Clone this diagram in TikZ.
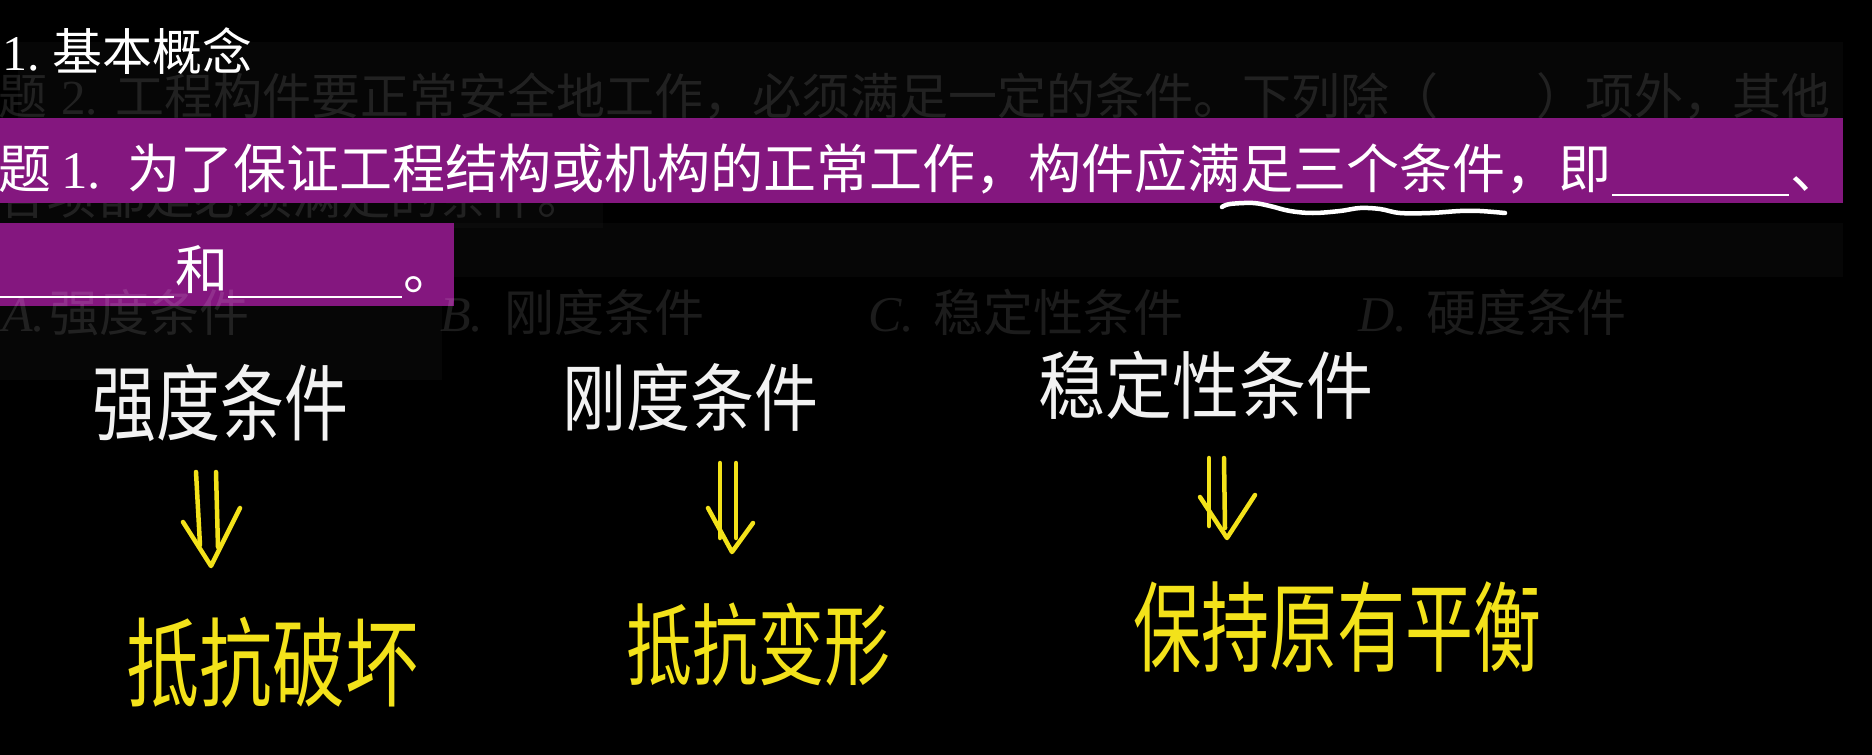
\documentclass[tikz,border=0pt]{standalone}
\usepackage{fontspec}
\setmainfont{Liberation Serif}
\newfontfamily\cjk{Noto Sans CJK SC}
\usetikzlibrary{calc}
\definecolor{bandpurple}{HTML}{84177F}
\definecolor{hwyellow}{HTML}{F3E21A}
\definecolor{hwwhite}{HTML}{F2F2F2}
\newcommand\fsz[1]{\fontsize{#1}{#1}\selectfont}
\tikzset{
  txt/.style={inner sep=0pt, anchor=base west, text=white},
  ghost/.style={inner sep=0pt, anchor=base west, text=white, text opacity=0.11},
  band/.style={fill=bandpurple, draw=none},
  ghostbox/.style={fill=white, fill opacity=0.025, draw=none},
  hw/.style={inner sep=0pt, anchor=base, text=hwwhite},
  hwy/.style={inner sep=0pt, anchor=base, text=hwyellow},
  ya/.style={draw=hwyellow, line width=4.5pt, line cap=round, line join=round},
  blank/.style={draw=white, line width=1.6pt},
  wave/.style={draw=white, line width=4.5pt, line cap=round, line join=round},
}
\begin{document}
\begin{tikzpicture}[x=1pt,y=-1pt]
\fill[black] (0,0) rectangle (1872,755);
\useasboundingbox (0,0) rectangle (1872,755);

% faint ghost boxes
\fill[ghostbox] (18,42) rectangle (1843,118);
\fill[ghostbox] (0,203) rectangle (603,228);
\fill[ghostbox] (454,223) rectangle (1843,277);
\fill[ghostbox] (0,306) rectangle (442,380);

% ghost line lying partly behind the first band
\node[ghost, font=\cjk\fsz{49}] (g2) at (-2,214) {各项都是必须满足的条件。};

% purple highlight bands
\fill[band] (0,118) rectangle (1843,203);
\fill[band] (0,223) rectangle (454,306);

% title
\node[txt, font=\fsz{50}] (t1) at (2,70) {1.};
\node[txt, font=\cjk\fsz{50}] (t2) at (52,70) {基本概念};

% ghost texts
\node[ghost, font=\cjk\fsz{49}] (g1a) at (-2,114) {题};
\node[ghost, font=\fsz{49}] (g1b) at (61,114) {2.};
\node[ghost, font=\cjk\fsz{49}] (g1c) at (115,114) {工程构件要正常安全地工作，必须满足一定的条件。下列除（　　）项外，其他};
\node[ghost, font=\itshape\fsz{50}] (oa) at (2,331) {A.};
\node[ghost, font=\cjk\fsz{50}] (oa2) at (49,331) {强度条件};
\node[ghost, font=\itshape\fsz{50}] (ob) at (440,331) {B.};
\node[ghost, font=\cjk\fsz{50}] (ob2) at (504,331) {刚度条件};
\node[ghost, font=\itshape\fsz{50}] (oc) at (868,331) {C.};
\node[ghost, font=\cjk\fsz{50}] (oc2) at (933,331) {稳定性条件};
\node[ghost, font=\itshape\fsz{50}] (od) at (1358,331) {D.};
\node[ghost, font=\cjk\fsz{50}] (od2) at (1426,331) {硬度条件};

% question 1
\node[txt, font=\cjk\fsz{53}] (q1a) at (-2,188) {题};
\node[txt, font=\fsz{53}] (q1b) at (61,188) {1.};
\node[txt, font=\cjk\fsz{53}] (q1c) at (127,188) {为了保证工程结构或机构的正常工作，构件应满足三个条件，即};
\draw[blank] (1612,195) -- (1789,195);
\node[txt, font=\cjk\fsz{53}] (q1d) at (1790,188) {、};
\draw[blank] (0,297) -- (174,297);
\node[txt, font=\cjk\fsz{53}] (q1e) at (175,289) {和};
\draw[blank] (228,297) -- (402,297);
\node[txt, font=\cjk\fsz{53}] (q1f) at (403,289) {。};

% wavy underline under 三个条件
\draw[wave] plot[smooth, tension=0.6] coordinates {(1222,207) (1230,204) (1253,203) (1270,206) (1290,211) (1313,213) (1340,211) (1360,208) (1380,209) (1400,213) (1430,213) (1460,211) (1480,211) (1505,213)};

% handwritten conditions
\node[hw, font=\cjk\fsz{64}] (c1) at (220,434) {\scalebox{1}[1.3]{强度条件}};
\node[hw, font=\cjk\fsz{64}] (c2) at (690,425) {\scalebox{1}[1.15]{刚度条件}};
\node[hw, font=\cjk\fsz{67}] (c3) at (1206,413) {\scalebox{1}[1.1]{稳定性条件}};

% handwritten results
\node[hwy, font=\cjk\fsz{73}] (r1) at (272,699) {\scalebox{1}[1.33]{抵抗破坏}};
\node[hwy, font=\cjk\fsz{66}] (r2) at (758,678) {\scalebox{1}[1.35]{抵抗变形}};
\node[hwy, font=\cjk\fsz{68}] (r3) at (1337,664) {\scalebox{1}[1.45]{保持原有平衡}};

% double arrows
\coordinate (a1t) at (206,472);
\coordinate (a1p) at (211,566);
\draw[ya] ($(a1t)+(-10,0)$) -- ($(a1p)+(-11,-21)$);
\draw[ya] ($(a1t)+(10,0)$) -- ($(a1p)+(7,-19)$);
\draw[ya] ($(a1p)+(-28,-44)$) -- (a1p) -- ($(a1p)+(29,-58)$);

\coordinate (a2t) at (728,463);
\coordinate (a2p) at (732,552);
\draw[ya] ($(a2t)+(-8,0)$) -- ($(a2p)+(-12,-14)$);
\draw[ya] ($(a2t)+(8,0)$) -- ($(a2p)+(4,-14)$);
\draw[ya] ($(a2p)+(-24,-44)$) -- (a2p) -- ($(a2p)+(21,-29)$);

\coordinate (a3t) at (1216,458);
\coordinate (a3p) at (1227,538);
\draw[ya] ($(a3t)+(-7,0)$) -- ($(a3p)+(-18,-12)$);
\draw[ya] ($(a3t)+(8,0)$) -- ($(a3p)+(-2,-10)$);
\draw[ya] ($(a3p)+(-27,-41)$) -- (a3p) -- ($(a3p)+(28,-43)$);
\end{tikzpicture}
\end{document}
